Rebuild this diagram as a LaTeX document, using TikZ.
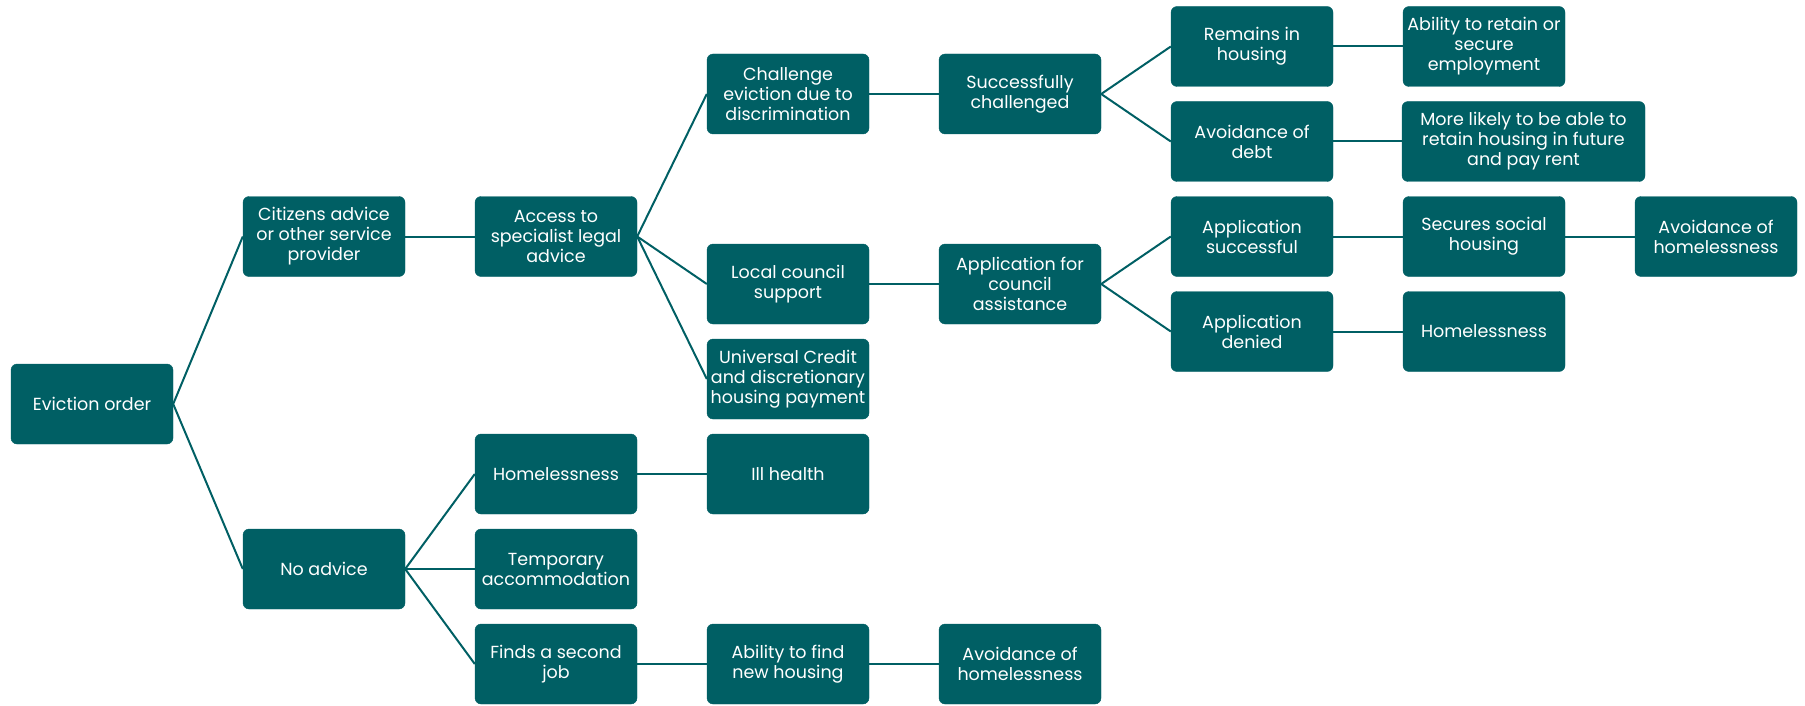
\documentclass[tikz,border=0pt]{standalone}
\usepackage{fontspec}
\setmainfont{Poppins}
\definecolor{teal1}{RGB}{0,95,100}
\begin{document}
\begin{tikzpicture}[x=1pt,y=-1pt,
  box/.style={draw=teal1,fill=teal1,rounded corners=6pt,minimum width=162pt,minimum height=80pt,
    text=white,align=center,font=\fontsize{17.5}{20}\selectfont,inner sep=1pt},
  wbox/.style={box,minimum width=243pt},
  link/.style={draw=teal1,line width=2pt}]
\useasboundingbox (0,0) rectangle (1805,706);
% rows: 46.5 + 47.5 k
\node[box] (evict) at (92,404) {Eviction order};
\node[box] (cit) at (324,236.5) {Citizens advice\\or other service\\provider};
\node[box] (noadv) at (324,569) {No advice};
\node[box] (access) at (556,236.5) {Access to\\specialist legal\\advice};
\node[box] (homel1) at (556,474) {Homelessness};
\node[box] (temp) at (556,569) {Temporary\\accommodation};
\node[box] (second) at (556,664) {Finds a second\\job};
\node[box] (chall) at (788,94) {Challenge\\eviction due to\\discrimination};
\node[box] (local) at (788,284) {Local council\\support};
\node[box] (uc) at (788,379) {Universal Credit\\and discretionary\\housing payment};
\node[box] (ill) at (788,474) {Ill health};
\node[box] (findh) at (788,664) {Ability to find\\new housing};
\node[box] (succ) at (1020,94) {Successfully\\challenged};
\node[box] (appl) at (1020,284) {Application for\\council\\assistance};
\node[box] (avh2) at (1020,664) {Avoidance of\\homelessness};
\node[box] (remain) at (1252,46.5) {Remains in\\housing};
\node[box] (debt) at (1252,141.5) {Avoidance of\\debt};
\node[box] (appsucc) at (1252,236.5) {Application\\successful};
\node[box] (appden) at (1252,331.5) {Application\\denied};
\node[box] (employ) at (1484,46.5) {Ability to retain or\\secure\\employment};
\node[wbox] (likely) at (1523.5,141.5) {More likely to be able to\\retain housing in future\\and pay rent};
\node[box] (social) at (1484,236.5) {Secures social\\housing};
\node[box] (homel2) at (1484,331.5) {Homelessness};
\node[box] (avh1) at (1716,236.5) {Avoidance of\\homelessness};
% links
\draw[link] (evict.east) -- (cit.west);
\draw[link] (evict.east) -- (noadv.west);
\draw[link] (cit.east) -- (access.west);
\draw[link] (access.east) -- (chall.west);
\draw[link] (access.east) -- (local.west);
\draw[link] (access.east) -- (uc.west);
\draw[link] (chall.east) -- (succ.west);
\draw[link] (succ.east) -- (remain.west);
\draw[link] (succ.east) -- (debt.west);
\draw[link] (remain.east) -- (employ.west);
\draw[link] (debt.east) -- (likely.west);
\draw[link] (local.east) -- (appl.west);
\draw[link] (appl.east) -- (appsucc.west);
\draw[link] (appl.east) -- (appden.west);
\draw[link] (appsucc.east) -- (social.west);
\draw[link] (social.east) -- (avh1.west);
\draw[link] (appden.east) -- (homel2.west);
\draw[link] (noadv.east) -- (homel1.west);
\draw[link] (noadv.east) -- (temp.west);
\draw[link] (noadv.east) -- (second.west);
\draw[link] (homel1.east) -- (ill.west);
\draw[link] (second.east) -- (findh.west);
\draw[link] (findh.east) -- (avh2.west);
\end{tikzpicture}
\end{document}
